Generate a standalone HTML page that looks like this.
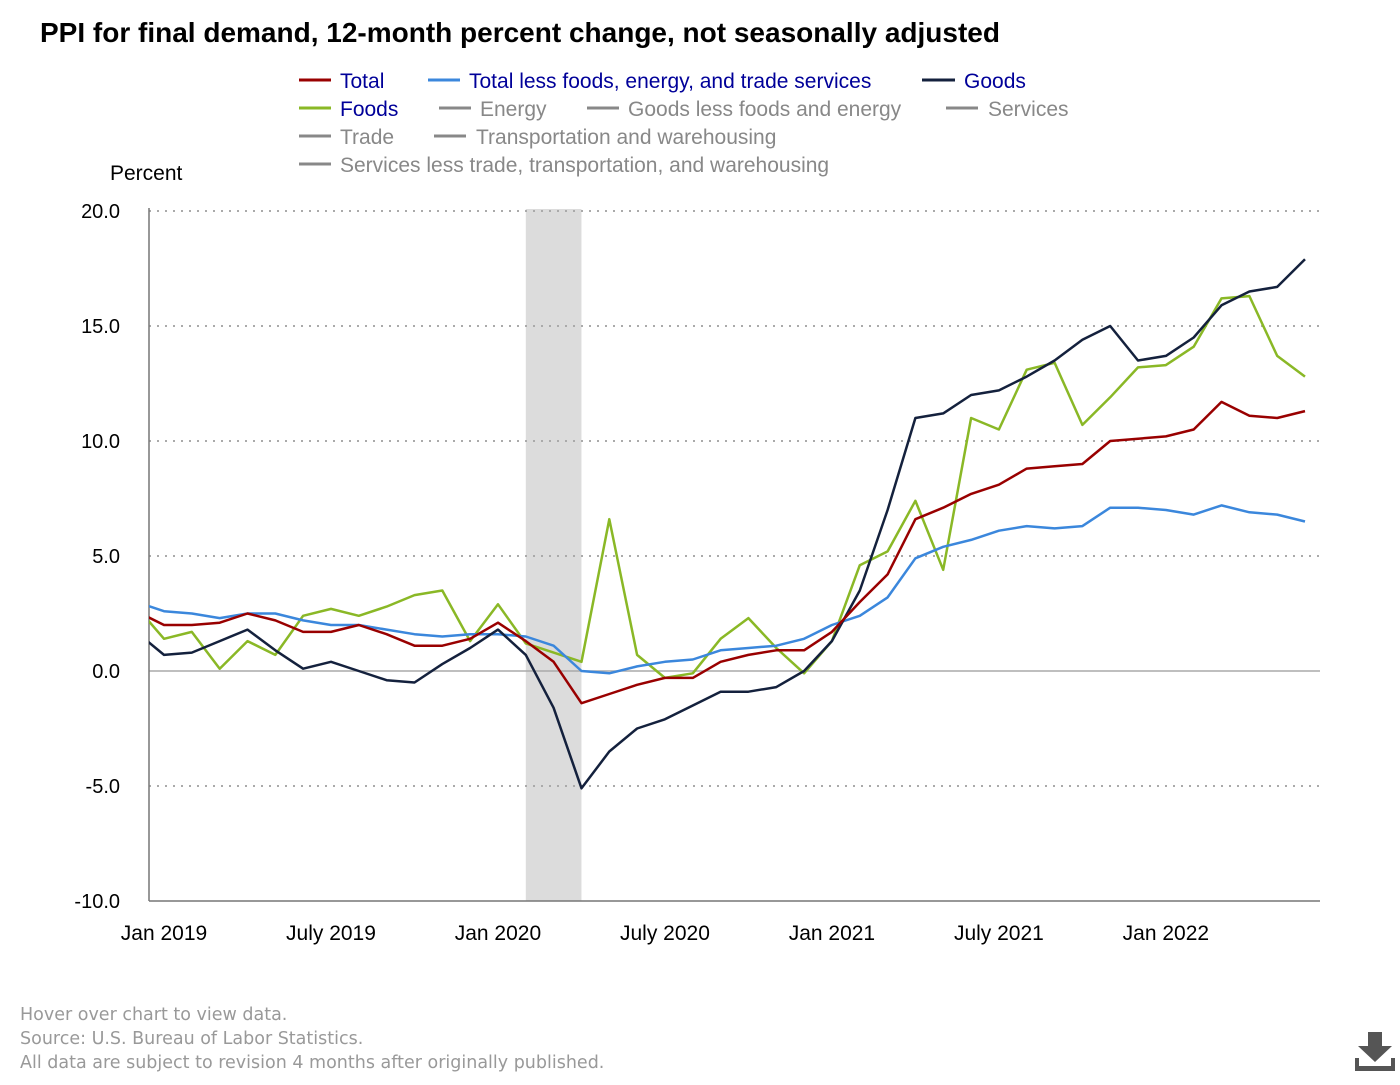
<!DOCTYPE html>
<html><head><meta charset="utf-8"><style>
body{margin:0;background:#fff;width:1400px;height:1080px;overflow:hidden;font-family:"Liberation Sans",sans-serif}
svg text{font-family:"Liberation Sans",sans-serif}
</style></head><body>
<svg id="c" width="1400" height="1080">
<text x="40" y="42" font-size="28" font-weight="bold" fill="#000">PPI for final demand, 12-month percent change, not seasonally adjusted</text>
<g font-size="21">
<g><line x1="299" x2="331" y1="80" y2="80" stroke="#990000" stroke-width="3"/><text x="340" y="88" fill="#000099">Total</text></g>
<g><line x1="428" x2="460" y1="80" y2="80" stroke="#3b87dc" stroke-width="3"/><text x="469" y="88" fill="#000099">Total less foods, energy, and trade services</text></g>
<g><line x1="922" x2="955" y1="80" y2="80" stroke="#14213d" stroke-width="3"/><text x="964" y="88" fill="#000099">Goods</text></g>
<g><line x1="299" x2="331" y1="108" y2="108" stroke="#8ab826" stroke-width="3"/><text x="340" y="116" fill="#000099">Foods</text></g>
<g><line x1="439" x2="471" y1="108" y2="108" stroke="#888" stroke-width="3"/><text x="480" y="116" fill="#888">Energy</text></g>
<g><line x1="587" x2="619" y1="108" y2="108" stroke="#888" stroke-width="3"/><text x="628" y="116" fill="#888">Goods less foods and energy</text></g>
<g><line x1="946" x2="978" y1="108" y2="108" stroke="#888" stroke-width="3"/><text x="988" y="116" fill="#888">Services</text></g>
<g><line x1="299" x2="331" y1="136" y2="136" stroke="#888" stroke-width="3"/><text x="340" y="144" fill="#888">Trade</text></g>
<g><line x1="434" x2="466" y1="136" y2="136" stroke="#888" stroke-width="3"/><text x="476" y="144" fill="#888">Transportation and warehousing</text></g>
<g><line x1="299" x2="331" y1="164" y2="164" stroke="#888" stroke-width="3"/><text x="340" y="172" fill="#888">Services less trade, transportation, and warehousing</text></g>
</g>
<text x="110" y="180" font-size="21" fill="#000">Percent</text>
<g id="plot"></g>
<g font-size="17.5" fill="#999" style="font-family:'DejaVu Sans',sans-serif">
<text x="20" y="1020" fill="#999" style="font-family:'DejaVu Sans',sans-serif">Hover over chart to view data.</text>
<text x="20" y="1044" fill="#999" style="font-family:'DejaVu Sans',sans-serif">Source: U.S. Bureau of Labor Statistics.</text>
<text x="20" y="1068" fill="#999" style="font-family:'DejaVu Sans',sans-serif">All data are subject to revision 4 months after originally published.</text>
</g>
<g fill="#555">
<rect x="1368" y="1032" width="14" height="16"/><polygon points="1358,1046 1392,1046 1375,1062"/><rect x="1355" y="1066" width="40" height="5"/><rect x="1355" y="1058" width="4" height="12"/><rect x="1391" y="1058" width="4" height="12"/>
</g>
</svg>
<script>
const months=["Dec 2018","Jan 2019","Feb 2019","Mar 2019","Apr 2019","May 2019","Jun 2019","Jul 2019","Aug 2019","Sep 2019","Oct 2019","Nov 2019","Dec 2019","Jan 2020","Feb 2020","Mar 2020","Apr 2020","May 2020","Jun 2020","Jul 2020","Aug 2020","Sep 2020","Oct 2020","Nov 2020","Dec 2020","Jan 2021","Feb 2021","Mar 2021","Apr 2021","May 2021","Jun 2021","Jul 2021","Aug 2021","Sep 2021","Oct 2021","Nov 2021","Dec 2021","Jan 2022","Feb 2022","Mar 2022","Apr 2022","May 2022","Jun 2022"];
const total=[2.6,2.0,2.0,2.1,2.5,2.2,1.7,1.7,2.0,1.6,1.1,1.1,1.4,2.1,1.3,0.4,-1.4,-1.0,-0.6,-0.3,-0.3,0.4,0.7,0.9,0.9,1.7,3.0,4.2,6.6,7.1,7.7,8.1,8.8,8.9,9.0,10.0,10.1,10.2,10.5,11.7,11.1,11.0,11.3];
const core=[3.0,2.6,2.5,2.3,2.5,2.5,2.2,2.0,2.0,1.8,1.6,1.5,1.6,1.6,1.5,1.1,0.0,-0.1,0.2,0.4,0.5,0.9,1.0,1.1,1.4,2.0,2.4,3.2,4.9,5.4,5.7,6.1,6.3,6.2,6.3,7.1,7.1,7.0,6.8,7.2,6.9,6.8,6.5];
const goods=[1.7,0.7,0.8,1.3,1.8,0.9,0.1,0.4,0.0,-0.4,-0.5,0.3,1.0,1.8,0.7,-1.6,-5.1,-3.5,-2.5,-2.1,-1.5,-0.9,-0.9,-0.7,0.0,1.3,3.5,7.0,11.0,11.2,12.0,12.2,12.8,13.5,14.4,15.0,13.5,13.7,14.5,15.9,16.5,16.7,17.9];
const foods=[2.8,1.4,1.7,0.1,1.3,0.7,2.4,2.7,2.4,2.8,3.3,3.5,1.3,2.9,1.2,0.8,0.4,6.6,0.7,-0.3,-0.1,1.4,2.3,1.0,-0.1,1.3,4.6,5.2,7.4,4.4,11.0,10.5,13.1,13.4,10.7,11.9,13.2,13.3,14.1,16.2,16.3,13.7,12.8];
const yTicks=[20,15,10,5,0,-5,-10];
const xTickLabels=["Jan 2019","July 2019","Jan 2020","July 2020","Jan 2021","July 2021","Jan 2022"];
const xTickIdx=[1,7,13,19,25,31,37];
const recession=[14,16];
const NS="http://www.w3.org/2000/svg";
const L=149,R=1320,T=211,B=901;
const X=i=>164+(i-1)*27.83;
const Y=v=>T+(20-v)*(B-T)/30;
const p=document.getElementById('plot');
function mk(t,a){const e=document.createElementNS(NS,t);for(const k in a)e.setAttribute(k,a[k]);p.appendChild(e);return e;}
const defs=mk('defs',{});
const cp=document.createElementNS(NS,'clipPath');cp.setAttribute('id','clip');
const cr=document.createElementNS(NS,'rect');cr.setAttribute('x',L);cr.setAttribute('y',0);cr.setAttribute('width',R-L);cr.setAttribute('height',1080);cp.appendChild(cr);defs.appendChild(cp);
const rb=mk('rect',{x:X(recession[0]),y:T-2,width:X(recession[1])-X(recession[0]),height:B-T+2,fill:'#dcdcdc'});


yTicks.forEach(v=>{
 if(v!==-10){const g=mk('line',{x1:L,x2:R,y1:Y(v),y2:Y(v),stroke:'#aaa','stroke-width':v===0?1.5:2,'stroke-dasharray':v===0?'':'2,6'});
 
 }
 const t=mk('text',{x:120,y:Y(v)+7,'text-anchor':'end','font-size':20,fill:'#000'});t.textContent=v.toFixed(1);
 
 
});
const ax=mk('line',{x1:L,x2:L,y1:T-3,y2:B,stroke:'#777','stroke-width':1.5});


const bx=mk('line',{x1:L,x2:R,y1:B,y2:B,stroke:'#777','stroke-width':1.5});


xTickLabels.forEach((s,k)=>{const t=mk('text',{x:X(xTickIdx[k]),y:940,'text-anchor':'middle','font-size':21,fill:'#000'});t.textContent=s;
 
 });
[[foods,'#8ab826','foods-line'],[core,'#3b87dc','core-line'],[goods,'#14213d','goods-line'],[total,'#990000','total-line']].forEach(([d,c,n])=>{
 const e=mk('polyline',{points:d.map((v,i)=>X(i).toFixed(1)+','+Y(v).toFixed(1)).join(' '),fill:'none',stroke:c,'stroke-width':2.5,'stroke-linejoin':'round','clip-path':'url(#clip)'});
 
 
});
</script>
</body></html>
